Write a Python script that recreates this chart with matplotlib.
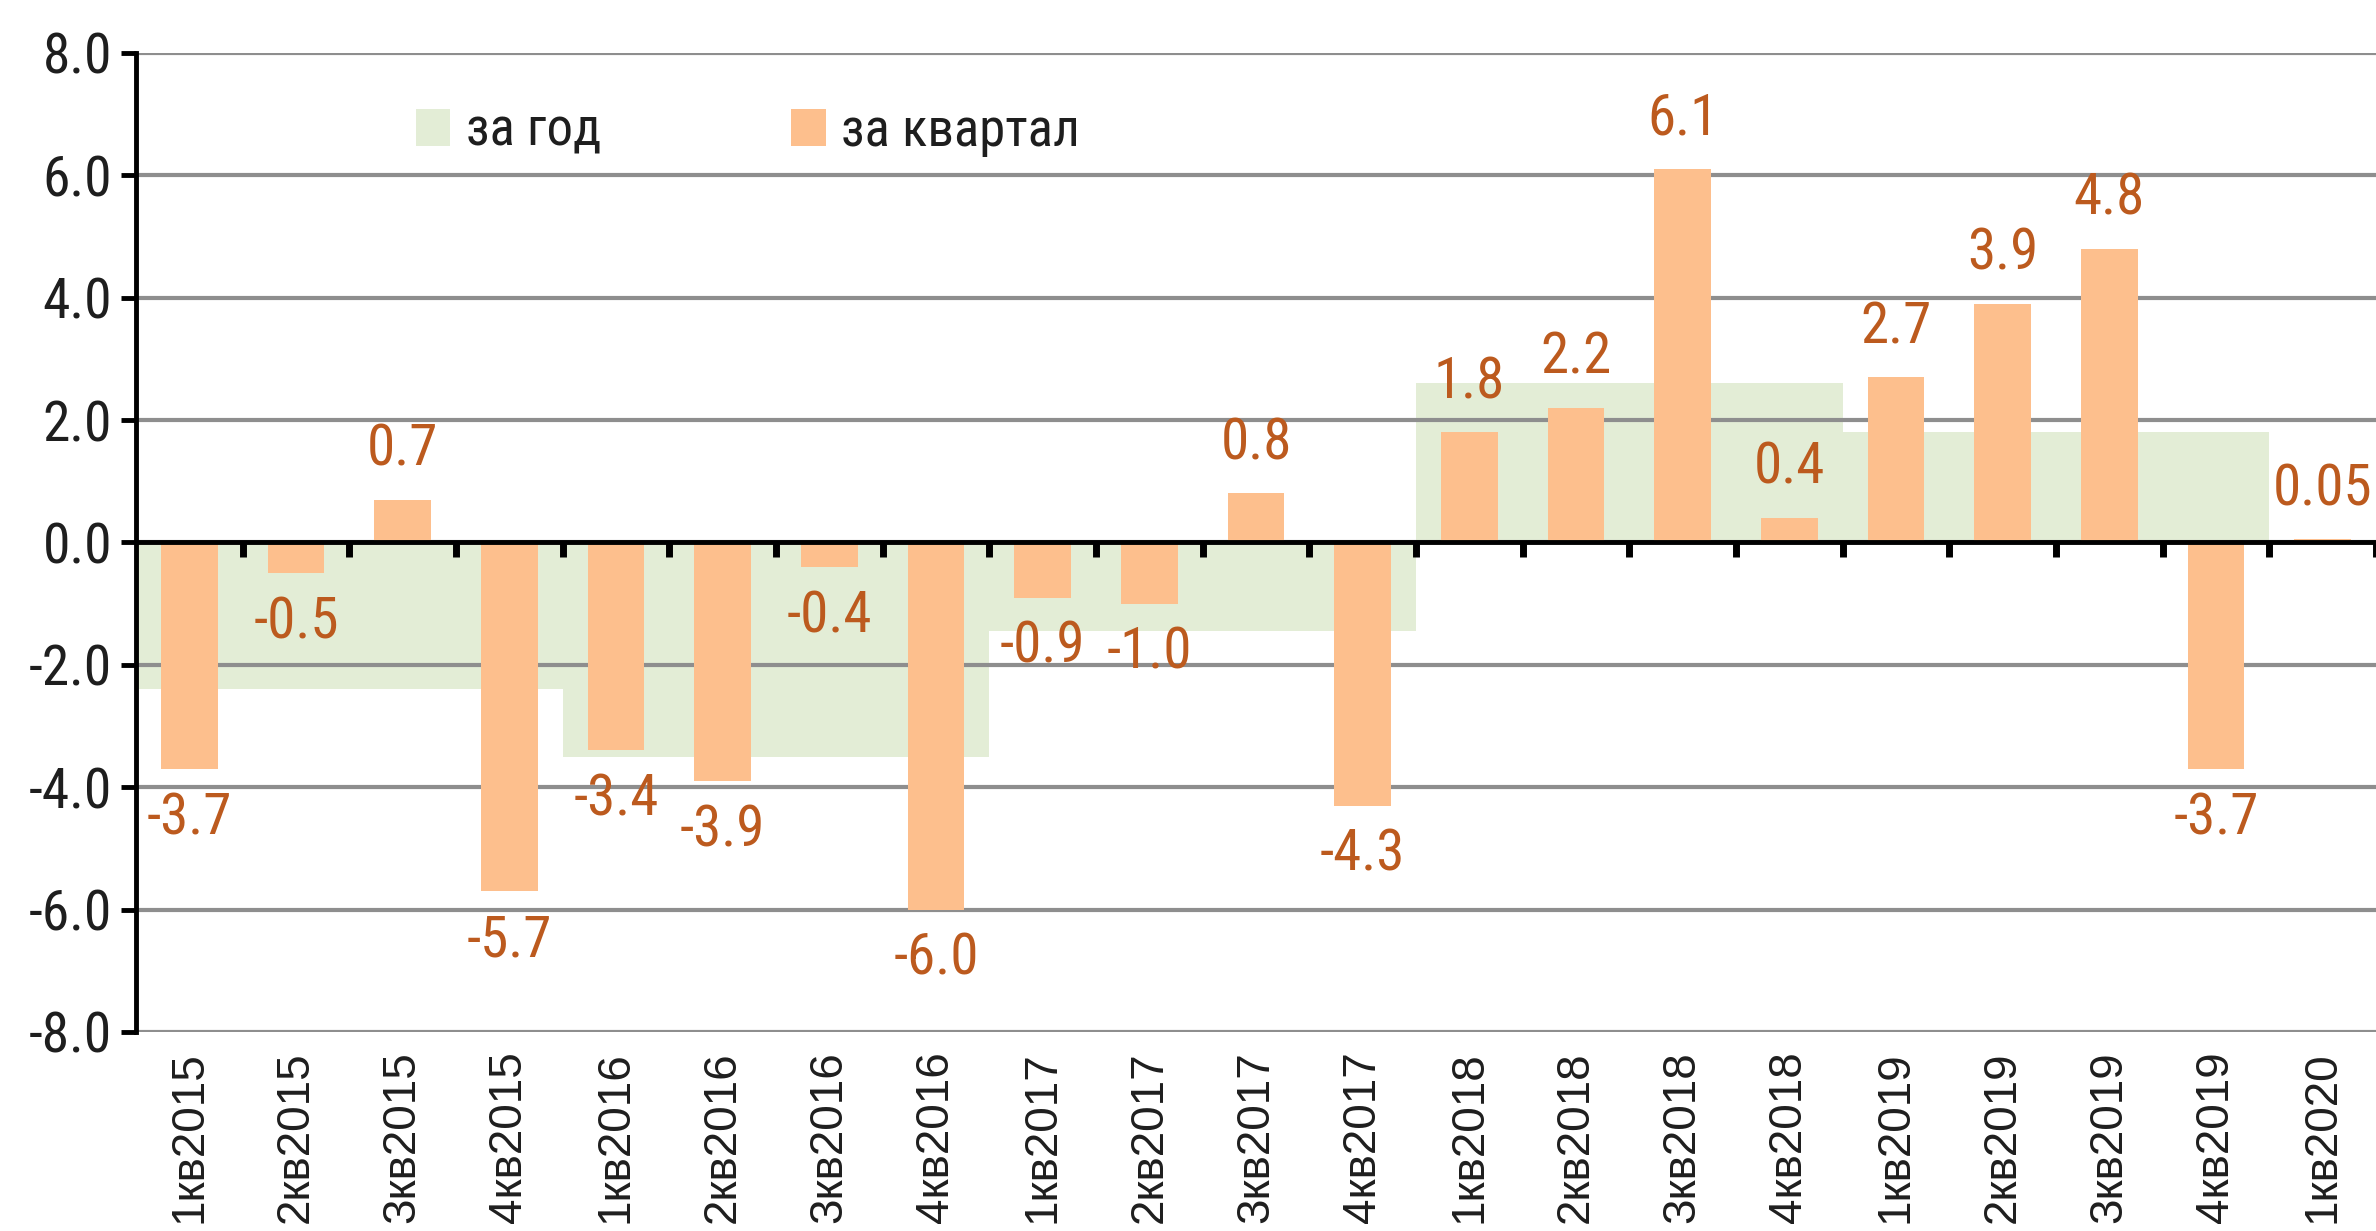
import numpy as np
import matplotlib.pyplot as plt
from matplotlib.patches import Patch
from matplotlib.transforms import blended_transform_factory

# Quarterly data
quarters = ["1кв2015", "2кв2015", "3кв2015", "4кв2015",
            "1кв2016", "2кв2016", "3кв2016", "4кв2016",
            "1кв2017", "2кв2017", "3кв2017", "4кв2017",
            "1кв2018", "2кв2018", "3кв2018", "4кв2018",
            "1кв2019", "2кв2019", "3кв2019", "4кв2019",
            "1кв2020"]
q_vals = [-3.7, -0.5, 0.7, -5.7,
          -3.4, -3.9, -0.4, -6.0,
          -0.9, -1.0, 0.8, -4.3,
          1.8, 2.2, 6.1, 0.4,
          2.7, 3.9, 4.8, -3.7,
          0.05]
q_labels = ["-3.7", "-0.5", "0.7", "-5.7",
            "-3.4", "-3.9", "-0.4", "-6.0",
            "-0.9", "-1.0", "0.8", "-4.3",
            "1.8", "2.2", "6.1", "0.4",
            "2.7", "3.9", "4.8", "-3.7",
            "0.05"]

# Annual data (one band per 4 quarters)
years = [2015, 2016, 2017, 2018, 2019]
y_vals = [-2.4, -3.5, -1.45, 2.6, 1.8]

narrow = ["Roboto Condensed", "Liberation Sans", "DejaVu Sans"]
regular = ["Liberation Sans", "DejaVu Sans"]

orange = "#FDBF8D"
green = "#E3EDD6"
lab_col = "#BC5A1E"
txt_col = "#1E1E1E"

fig = plt.figure(figsize=(23.76, 12.31), dpi=100)
ax = fig.add_axes([0.0572, 0.1617, 1 - 0.0572, 0.957 - 0.1617])

x = np.arange(len(quarters))
year_start = np.arange(len(years)) * 4 - 0.5

ax.bar(year_start, y_vals, width=4, align="edge", color=green, zorder=0.2,
       label="за год")
ax.set_axisbelow(True)
ax.bar(x, q_vals, width=0.53, color=orange, zorder=1, label="за квартал")

for xi, v, s in zip(x, q_vals, q_labels):
    if v >= 0:
        ax.annotate(s, (xi, v), xytext=(0, 16), textcoords="offset points",
                    ha="center", va="bottom", fontsize=41, color=lab_col,
                    family=narrow, zorder=3)
    else:
        ax.annotate(s, (xi, v), xytext=(0, -16), textcoords="offset points",
                    ha="center", va="top", fontsize=41, color=lab_col,
                    family=narrow, zorder=3)

ax.set_xlim(-0.5, 20.46)
ax.set_ylim(-8, 8)
ax.set_yticks(np.arange(-8, 9, 2))
ax.set_yticklabels([f"{t:.1f}" for t in np.arange(-8, 9, 2)],
                   fontsize=40, color=txt_col, family=narrow)
ax.yaxis.grid(True, color="#8E8E8E", linewidth=3)

for s in ["top", "right"]:
    ax.spines[s].set_visible(False)
ax.spines["left"].set_linewidth(3.5)
ax.spines["bottom"].set_linewidth(3.5)
ax.spines["bottom"].set_position(("data", 0))

# boundary ticks on zero axis
ax.set_xticks(np.arange(len(quarters)) + 0.5)
ax.set_xticklabels([])
ax.tick_params(axis="x", direction="out", length=11, width=5, color="black")
ax.tick_params(axis="y", direction="out", length=11, width=3.5, color="black",
               pad=6)

# category labels at the bottom
trans = blended_transform_factory(ax.transData, ax.transAxes)
for xi, q in zip(x, quarters):
    ax.text(xi, -0.02, q, transform=trans, rotation=90, ha="center",
            va="top", fontsize=33, color=txt_col, family=regular)

handles = [Patch(facecolor=green, edgecolor="none"),
           Patch(facecolor=orange, edgecolor="none")]
leg = ax.legend(handles, ["за год", "за квартал"], loc="center left",
                bbox_to_anchor=(0.125, 0.92), ncol=2, frameon=False,
                handlelength=0.65, handleheight=0.7, handletextpad=0.3,
                columnspacing=3.6, borderaxespad=0, borderpad=0,
                prop={"family": narrow, "size": 38})
for t in leg.get_texts():
    t.set_color(txt_col)

fig.savefig("out.png", dpi=100)
